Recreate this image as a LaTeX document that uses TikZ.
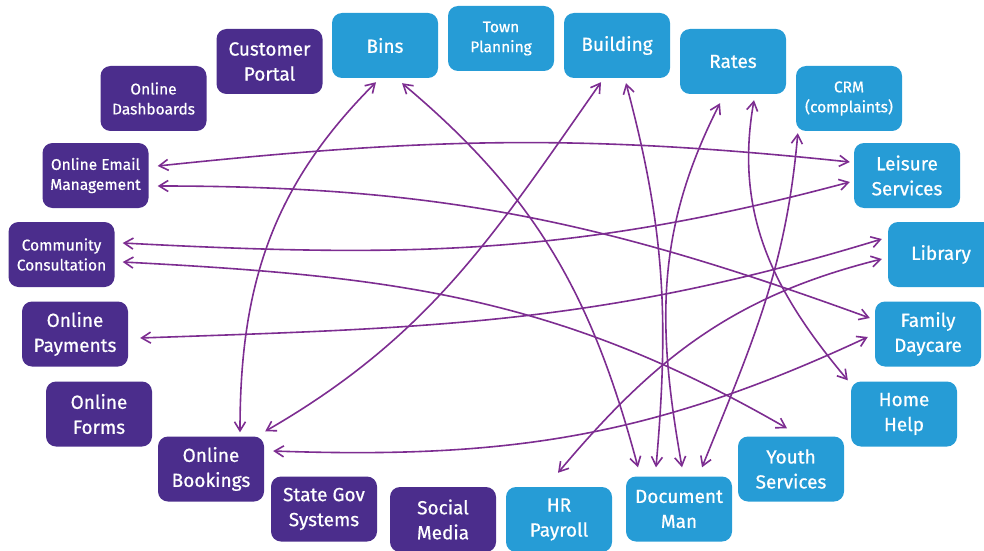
\documentclass[tikz,border=0pt]{standalone}
\usepackage{fontspec}
\setmainfont{Fira Sans}[UprightFeatures={FakeBold=0.6}]
\usetikzlibrary{arrows.meta}
\definecolor{purp}{RGB}{75,45,140}
\definecolor{sky}{RGB}{38,156,214}
\definecolor{wire}{RGB}{125,45,145}
\tikzset{
  sysbox/.style={rounded corners=10pt,minimum width=106pt,minimum height=65pt,inner sep=0pt,
    align=center,text=white,font=\fontsize{19}{25}\selectfont},
  online/.style={sysbox,fill=purp},
  council/.style={sysbox,fill=sky},
  onlinesm/.style={online,font=\fontsize{15.5}{20}\selectfont},
  councilsm/.style={council,font=\fontsize{15.5}{20}\selectfont},
  link/.style={{Straight Barb[length=9pt,width=11pt]}-{Straight Barb[length=9pt,width=11pt]},
    draw=wire,line width=1.6pt}
}
\begin{document}
\begin{tikzpicture}[x=1pt,y=1pt,line join=round,line cap=round]
\clip (0,0) rectangle (984,550);
% online systems
\foreach \n/\s/\p/\t in {portal/online/{269.5,488.5}/{Customer\\Portal},
  dash/onlinesm/{153.5,451.5}/{Online\\Dashboards},
  email/onlinesm/{95.5,374.5}/{Online Email\\Management},
  consult/onlinesm/{61.5,295.5}/{Community\\Consultation},
  pay/online/{75,216}/{Online\\Payments},
  forms/online/{99,136}/{Online\\Forms},
  book/online/{211,81}/{Online\\Bookings},
  stategov/online/{324,41}/{State Gov\\Systems},
  social/online/{443,30.5}/{Social\\Media}}{
  \node[\s] (\n) at (\p) {\t};
}
% council services
\foreach \n/\s/\p/\t in {bins/council/{385,504.5}/{Bins},
  town/councilsm/{501,511.5}/{Town\\Planning},
  building/council/{617,504.5}/{Building},
  rates/council/{733,488.5}/{Rates},
  crm/councilsm/{849,451.5}/{CRM\\(complaints)},
  leisure/council/{907,374.5}/{Leisure\\Services},
  library/council/{941,295.5}/{Library},
  family/council/{928,216}/{Family\\Daycare},
  home/council/{904,136}/{Home\\Help},
  youth/council/{791,81}/{Youth\\Services},
  docman/council/{679,41}/{Document\\Man},
  hr/council/{559,30.5}/{HR\\Payroll}}{
  \node[\s] (\n) at (\p) {\t};
}
% links
\draw[link] ([shift={(-9,-4)}]bins.south) to[out=225,in=90] ([shift={(29,4)}]book.north);
\draw[link] ([shift={(17,-5)}]bins.south) to[out=-40,in=105] ([shift={(-41,9)}]docman.north);
\draw[link] ([shift={(-16,-4)}]building.south) to[out=235,in=30] ([shift={(1,5)}]book.north east);
\draw[link] ([shift={(9,-5)}]building.south) to[out=-75,in=85] ([shift={(-23,9)}]docman.north);
\draw[link] ([shift={(-13,-9)}]rates.south) to[out=243,in=100] ([shift={(3,9)}]docman.north);
\draw[link] ([shift={(21,-6)}]rates.south) to[out=260,in=130] ([shift={(-3,1)}]home.north west);
\draw[link] ([shift={(2,-2)}]crm.south west) to[out=265,in=68] ([shift={(23,9)}]docman.north);
\draw[link] ([shift={(9,9.5)}]email.east) to[out=6,in=174] ([shift={(-4,13.5)}]leisure.west);
\draw[link] ([shift={(9,-10.5)}]email.east) to[out=0,in=160] ([shift={(-5,16)}]family.west);
\draw[link] ([shift={(8,11.5)}]consult.east) to[out=-3,in=195] ([shift={(-4,-6.5)}]leisure.west);
\draw[link] ([shift={(8,-7.5)}]consult.east) to[out=-3,in=150] ([shift={(-4,8)}]youth.north);
\draw[link] ([shift={(12,-4)}]pay.east) to[out=2,in=197] ([shift={(-6,15.5)}]library.west);
\draw[link] ([shift={(-1,14)}]hr.north) to[out=50,in=194] ([shift={(-6,-4.5)}]library.west);
\draw[link] ([shift={(9,18)}]book.east) to[out=-2,in=205] ([shift={(-7,-3)}]family.west);
\end{tikzpicture}
\end{document}
